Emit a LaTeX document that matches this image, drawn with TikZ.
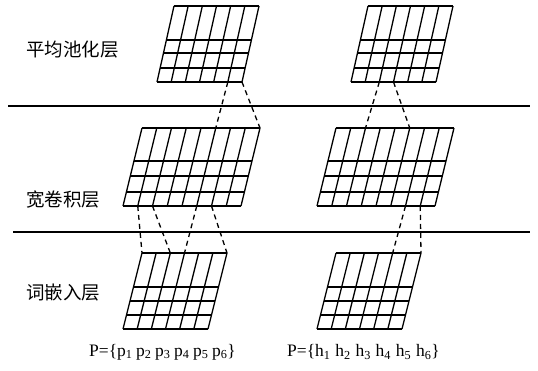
\documentclass[tikz,border=0pt]{standalone}
\usepackage{fontspec}
\setmainfont{Liberation Serif}
\newfontfamily\cjk{Noto Sans CJK SC}
\usetikzlibrary{calc}
\tikzset{
  gridline/.style={line width=1.3pt, line join=round},
  sepline/.style={line width=1.4pt},
  conn/.style={line width=1.3pt, dash pattern=on 5pt off 4pt},
  layerlabel/.style={anchor=west, inner sep=0pt, font=\cjk\fontsize{18.5}{18.5}\selectfont},
  seqlabel/.style={anchor=west, inner sep=0pt, font=\fontsize{17.5}{17.5}\selectfont}
}
% #1 name, #2 top-left x, #3 top y, #4 width, #5 bottom-left x, #6 bottom y, #7 ncols, #8 inner row y list
\newcommand{\gridpar}[8]{%
  \foreach \k in {0,...,#7} {
    \coordinate (#1-t-\k) at ({#2+#4*\k/#7},#3);
    \coordinate (#1-b-\k) at ({#5+#4*\k/#7},#6);
    \draw[gridline] (#1-t-\k) -- (#1-b-\k);
  }
  \draw[gridline] (#1-t-0) -- (#1-t-#7);
  \draw[gridline] (#1-b-0) -- (#1-b-#7);
  \foreach \yy in {#8} {
    \draw[gridline] ($(#1-t-0)!{(\yy-#3)/(#6-#3)}!(#1-b-0)$) -- ($(#1-t-#7)!{(\yy-#3)/(#6-#3)}!(#1-b-#7)$);
  }
}
\newcommand{\pg}{\hspace{3.6pt}}
\newcommand{\hg}{\hspace{4.8pt}}
\begin{document}
\begin{tikzpicture}[x=1pt,y=-1pt]
\useasboundingbox (0,0) rectangle (538,371);
% separators
\coordinate (s1a) at (8,106);
\coordinate (s1b) at (530,106);
\coordinate (s2a) at (13,232);
\coordinate (s2b) at (530,232);
\draw[sepline] (s1a) -- (s1b);
\draw[sepline] (s2a) -- (s2b);
% labels
\node[layerlabel] (l1) at (26,50) {平均池化层};
\node[layerlabel] (l2) at (26,200) {宽卷积层};
\node[layerlabel] (l3) at (26,293) {词嵌入层};
% grids
\gridpar{pl}{174}{6}{85}{157}{82}{6}{40,53,68}
\gridpar{pr}{368}{6}{85}{351}{82}{6}{40,53,68}
\gridpar{ml}{142}{128}{118}{123}{206}{8}{161,176,192}
\gridpar{mr}{336}{128}{118}{317}{206}{8}{161,176,192}
\gridpar{bl}{142}{253}{85}{123}{329}{6}{287,301,315}
\gridpar{br}{336}{253}{85}{317}{329}{6}{287,301,315}
% connectors
\draw[conn] (pl-b-5) -- (ml-t-5);
\draw[conn] (pl-b-6) -- (ml-t-8);
\draw[conn] (pr-b-2) -- (mr-t-2);
\draw[conn] (pr-b-3) -- (mr-t-5);
\draw[conn] (ml-b-1) -- (bl-t-0);
\draw[conn] (ml-b-2) -- (bl-t-2);
\draw[conn] (ml-b-5) -- (bl-t-3);
\draw[conn] (ml-b-6) -- (bl-t-6);
\draw[conn] (mr-b-6) -- (br-t-4);
\draw[conn] (mr-b-7) -- (br-t-6);
% sequence labels
\node[seqlabel] (sp) at (89,352) {P=\{p\textsubscript{1}\pg p\textsubscript{2}\pg p\textsubscript{3}\pg p\textsubscript{4}\pg p\textsubscript{5}\pg p\textsubscript{6}\}};
\node[seqlabel] (sh) at (287,352) {P=\{h\textsubscript{1}\hg h\textsubscript{2}\hg h\textsubscript{3}\hg h\textsubscript{4}\hg h\textsubscript{5}\hg h\textsubscript{6}\}};
\end{tikzpicture}
\end{document}
